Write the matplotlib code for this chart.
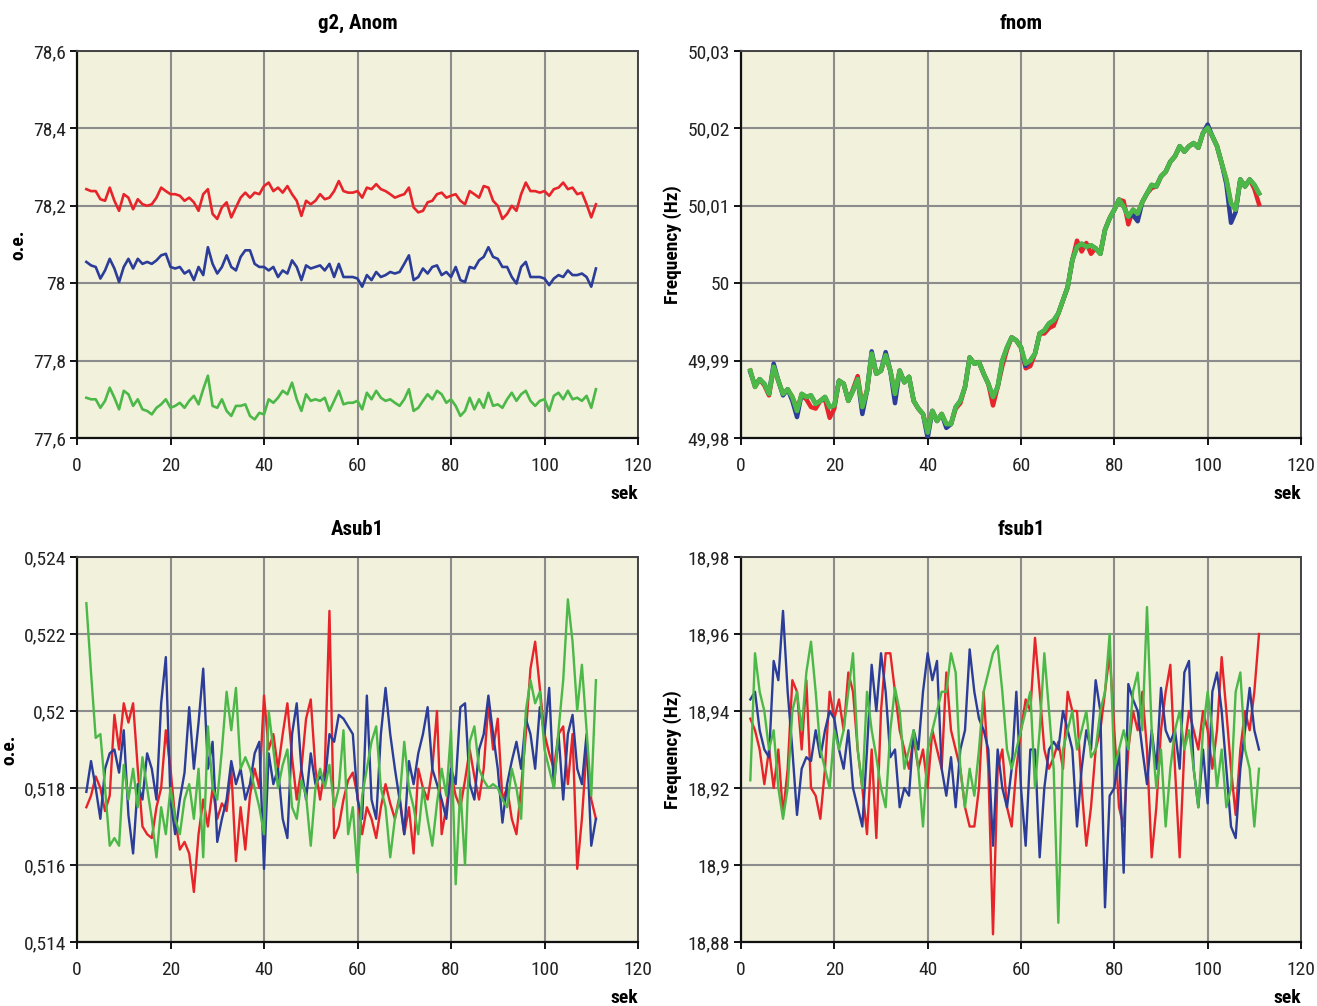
import numpy as np
import matplotlib
matplotlib.use("Agg")
import matplotlib.pyplot as plt
from matplotlib import font_manager
from matplotlib.ticker import FixedLocator, FuncFormatter

# ---------------- data ----------------
t = np.arange(2, 112)  # seconds

g2_red = [78.243, 78.238, 78.238, 78.217, 78.213, 78.247, 78.213, 78.187, 78.230, 78.221,
          78.191, 78.217, 78.204, 78.200, 78.204, 78.221, 78.247, 78.238, 78.230, 78.230,
          78.226, 78.213, 78.221, 78.209, 78.187, 78.230, 78.243, 78.179, 78.166, 78.196,
          78.209, 78.170, 78.196, 78.221, 78.234, 78.221, 78.234, 78.230, 78.251, 78.260,
          78.238, 78.247, 78.234, 78.251, 78.230, 78.213, 78.174, 78.213, 78.204, 78.213,
          78.230, 78.217, 78.221, 78.238, 78.264, 78.238, 78.234, 78.234, 78.238, 78.221,
          78.247, 78.243, 78.256, 78.243, 78.238, 78.230, 78.221, 78.226, 78.230, 78.247,
          78.196, 78.183, 78.187, 78.209, 78.213, 78.230, 78.234, 78.221, 78.226, 78.230,
          78.213, 78.204, 78.238, 78.230, 78.221, 78.251, 78.247, 78.213, 78.200, 78.166,
          78.179, 78.200, 78.187, 78.230, 78.260, 78.238, 78.238, 78.234, 78.238, 78.226,
          78.243, 78.247, 78.260, 78.243, 78.247, 78.230, 78.234, 78.204, 78.170, 78.204]
g2_blue = [78.055, 78.046, 78.042, 78.012, 78.033, 78.063, 78.038, 78.003, 78.042, 78.063,
           78.038, 78.063, 78.050, 78.055, 78.050, 78.059, 78.072, 78.076, 78.042, 78.038,
           78.042, 78.025, 78.033, 78.008, 78.042, 78.021, 78.093, 78.050, 78.025, 78.042,
           78.072, 78.042, 78.033, 78.068, 78.085, 78.085, 78.050, 78.042, 78.042, 78.033,
           78.042, 78.016, 78.033, 78.025, 78.059, 78.042, 78.008, 78.046, 78.038, 78.042,
           78.046, 78.033, 78.050, 78.016, 78.050, 78.016, 78.016, 78.016, 78.012, 77.991,
           78.021, 78.008, 78.029, 78.016, 78.021, 78.029, 78.025, 78.029, 78.050, 78.072,
           78.008, 78.016, 78.038, 78.025, 78.042, 78.046, 78.021, 78.029, 78.016, 78.042,
           78.008, 78.003, 78.042, 78.038, 78.059, 78.068, 78.093, 78.068, 78.063, 78.042,
           78.042, 78.016, 77.999, 78.042, 78.055, 78.016, 78.016, 78.016, 78.012, 77.995,
           78.012, 78.021, 78.016, 78.033, 78.021, 78.021, 78.025, 78.016, 77.991, 78.038]
g2_green = [77.704, 77.700, 77.700, 77.678, 77.696, 77.730, 77.704, 77.674, 77.722, 77.713,
            77.683, 77.700, 77.674, 77.670, 77.661, 77.678, 77.687, 77.700, 77.678, 77.683,
            77.691, 77.678, 77.696, 77.709, 77.687, 77.726, 77.761, 77.683, 77.678, 77.700,
            77.670, 77.657, 77.683, 77.683, 77.687, 77.657, 77.648, 77.665, 77.661, 77.700,
            77.691, 77.704, 77.722, 77.713, 77.743, 77.700, 77.670, 77.713, 77.696, 77.700,
            77.696, 77.704, 77.670, 77.696, 77.722, 77.687, 77.691, 77.691, 77.696, 77.674,
            77.717, 77.700, 77.722, 77.704, 77.696, 77.700, 77.691, 77.683, 77.700, 77.726,
            77.670, 77.678, 77.696, 77.713, 77.700, 77.722, 77.713, 77.691, 77.700, 77.683,
            77.657, 77.670, 77.704, 77.674, 77.700, 77.678, 77.717, 77.683, 77.687, 77.678,
            77.700, 77.717, 77.696, 77.713, 77.722, 77.696, 77.683, 77.696, 77.700, 77.670,
            77.709, 77.717, 77.700, 77.722, 77.700, 77.704, 77.696, 77.709, 77.678, 77.726]

fnom_red = [49.9887, 49.9866, 49.9876, 49.9868, 49.9855, 49.9890, 49.9874, 49.9857, 49.9863, 49.9853,
            49.9838, 49.9855, 49.9850, 49.9840, 49.9838, 49.9848, 49.9850, 49.9826, 49.9838, 49.9874,
            49.9870, 49.9848, 49.9863, 49.9880, 49.9842, 49.9861, 49.9905, 49.9883, 49.9887, 49.9905,
            49.9887, 49.9857, 49.9887, 49.9872, 49.9879, 49.9848, 49.9838, 49.9831, 49.9810, 49.9835,
            49.9822, 49.9831, 49.9818, 49.9818, 49.9838, 49.9845, 49.9866, 49.9904, 49.9896, 49.9898,
            49.9883, 49.9870, 49.9842, 49.9866, 49.9893, 49.9914, 49.9930, 49.9926, 49.9917, 49.9890,
            49.9893, 49.9909, 49.9935, 49.9935, 49.9942, 49.9945, 49.9961, 49.9978, 49.9995, 50.0030,
            50.0055, 50.0041, 50.0052, 50.0038, 50.0045, 50.0038, 50.0069, 50.0084, 50.0095, 50.0108,
            50.0106, 50.0076, 50.0095, 50.0090, 50.0105, 50.0116, 50.0123, 50.0125, 50.0138, 50.0144,
            50.0157, 50.0164, 50.0177, 50.0170, 50.0177, 50.0181, 50.0175, 50.0194, 50.0201, 50.0190,
            50.0177, 50.0155, 50.0134, 50.0103, 50.0095, 50.0134, 50.0125, 50.0134, 50.0122, 50.0102]
fnom_blue = [49.9885, 49.9868, 49.9876, 49.9870, 49.9857, 49.9896, 49.9874, 49.9855, 49.9863, 49.9848,
             49.9827, 49.9857, 49.9853, 49.9855, 49.9844, 49.9848, 49.9853, 49.9840, 49.9842, 49.9874,
             49.9870, 49.9848, 49.9861, 49.9876, 49.9831, 49.9861, 49.9912, 49.9883, 49.9887, 49.9911,
             49.9887, 49.9845, 49.9887, 49.9872, 49.9879, 49.9848, 49.9838, 49.9831, 49.9800, 49.9835,
             49.9822, 49.9831, 49.9813, 49.9818, 49.9840, 49.9848, 49.9866, 49.9904, 49.9896, 49.9898,
             49.9883, 49.9870, 49.9853, 49.9866, 49.9900, 49.9917, 49.9930, 49.9926, 49.9917, 49.9893,
             49.9900, 49.9909, 49.9935, 49.9939, 49.9948, 49.9952, 49.9961, 49.9978, 49.9995, 50.0030,
             50.0047, 50.0051, 50.0047, 50.0049, 50.0045, 50.0038, 50.0069, 50.0084, 50.0095, 50.0108,
             50.0099, 50.0086, 50.0088, 50.0080, 50.0105, 50.0116, 50.0127, 50.0125, 50.0138, 50.0144,
             50.0157, 50.0164, 50.0177, 50.0170, 50.0177, 50.0181, 50.0175, 50.0194, 50.0205, 50.0190,
             50.0177, 50.0155, 50.0128, 50.0078, 50.0092, 50.0134, 50.0125, 50.0134, 50.0127, 50.0116]
fnom_green = [49.9887, 49.9866, 49.9876, 49.9870, 49.9857, 49.9892, 49.9874, 49.9857, 49.9863, 49.9853,
              49.9835, 49.9857, 49.9853, 49.9855, 49.9844, 49.9848, 49.9853, 49.9840, 49.9842, 49.9874,
              49.9870, 49.9848, 49.9861, 49.9876, 49.9840, 49.9861, 49.9909, 49.9883, 49.9887, 49.9907,
              49.9887, 49.9857, 49.9887, 49.9872, 49.9879, 49.9848, 49.9838, 49.9831, 49.9807, 49.9835,
              49.9822, 49.9831, 49.9818, 49.9818, 49.9840, 49.9848, 49.9866, 49.9904, 49.9896, 49.9898,
              49.9883, 49.9870, 49.9853, 49.9866, 49.9900, 49.9917, 49.9930, 49.9926, 49.9917, 49.9896,
              49.9900, 49.9909, 49.9935, 49.9939, 49.9948, 49.9952, 49.9961, 49.9978, 49.9995, 50.0030,
              50.0047, 50.0051, 50.0047, 50.0049, 50.0045, 50.0038, 50.0069, 50.0084, 50.0095, 50.0108,
              50.0099, 50.0086, 50.0095, 50.0090, 50.0105, 50.0116, 50.0127, 50.0125, 50.0138, 50.0144,
              50.0157, 50.0164, 50.0177, 50.0170, 50.0177, 50.0181, 50.0175, 50.0194, 50.0201, 50.0190,
              50.0177, 50.0155, 50.0134, 50.0103, 50.0095, 50.0134, 50.0125, 50.0134, 50.0127, 50.0116]

asub_red = [0.5175, 0.5178, 0.5183, 0.5180, 0.5174, 0.5178, 0.5199, 0.5190, 0.5202, 0.5197,
            0.5202, 0.5185, 0.5170, 0.5168, 0.5167, 0.5175, 0.5180, 0.5195, 0.5185, 0.5172,
            0.5164, 0.5166, 0.5163, 0.5153, 0.5168, 0.5177, 0.5170, 0.5180, 0.5172, 0.5176,
            0.5174, 0.5185, 0.5161, 0.5175, 0.5164, 0.5178, 0.5185, 0.5180, 0.5204, 0.5190,
            0.5194, 0.5185, 0.5194, 0.5202, 0.5188, 0.5177, 0.5185, 0.5198, 0.5203, 0.5185,
            0.5177, 0.5185, 0.5226, 0.5167, 0.5170, 0.5177, 0.5182, 0.5184, 0.5178, 0.5168,
            0.5175, 0.5172, 0.5167, 0.5175, 0.5181, 0.5176, 0.5172, 0.5178, 0.5168, 0.5175,
            0.5163, 0.5185, 0.5180, 0.5177, 0.5185, 0.5200, 0.5168, 0.5175, 0.5184, 0.5178,
            0.5175, 0.5182, 0.5190, 0.5183, 0.5177, 0.5185, 0.5202, 0.5190, 0.5198, 0.5177,
            0.5180, 0.5172, 0.5168, 0.5180, 0.5194, 0.5211, 0.5218, 0.5206, 0.5194, 0.5189,
            0.5185, 0.5194, 0.5196, 0.5181, 0.5194, 0.5159, 0.5172, 0.5190, 0.5177, 0.5172]
asub_blue = [0.5179, 0.5187, 0.5180, 0.5172, 0.5185, 0.5189, 0.5190, 0.5184, 0.5195, 0.5173,
             0.5163, 0.5181, 0.5177, 0.5189, 0.5185, 0.5177, 0.5202, 0.5214, 0.5177, 0.5168,
             0.5177, 0.5184, 0.5201, 0.5185, 0.5197, 0.5211, 0.5185, 0.5192, 0.5166, 0.5172,
             0.5177, 0.5187, 0.5181, 0.5185, 0.5177, 0.5181, 0.5189, 0.5192, 0.5159, 0.5189,
             0.5181, 0.5185, 0.5172, 0.5167, 0.5194, 0.5202, 0.5185, 0.5177, 0.5189, 0.5181,
             0.5183, 0.5181, 0.5194, 0.5192, 0.5199, 0.5198, 0.5196, 0.5194, 0.5177, 0.5172,
             0.5204, 0.5177, 0.5172, 0.5194, 0.5206, 0.5194, 0.5185, 0.5177, 0.5168, 0.5187,
             0.5181, 0.5189, 0.5194, 0.5201, 0.5185, 0.5181, 0.5177, 0.5172, 0.5185, 0.5181,
             0.5201, 0.5202, 0.5181, 0.5177, 0.5190, 0.5194, 0.5204, 0.5194, 0.5185, 0.5171,
             0.5181, 0.5187, 0.5192, 0.5185, 0.5198, 0.5194, 0.5185, 0.5201, 0.5194, 0.5206,
             0.5180, 0.5194, 0.5177, 0.5194, 0.5199, 0.5185, 0.5181, 0.5194, 0.5165, 0.5172]
asub_green = [0.5228, 0.5210, 0.5193, 0.5194, 0.5180, 0.5165, 0.5167, 0.5165, 0.5186, 0.5177,
              0.5185, 0.5175, 0.5188, 0.5180, 0.5172, 0.5162, 0.5175, 0.5168, 0.5180, 0.5172,
              0.5168, 0.5177, 0.5181, 0.5172, 0.5185, 0.5162, 0.5196, 0.5180, 0.5177, 0.5190,
              0.5205, 0.5195, 0.5206, 0.5185, 0.5188, 0.5185, 0.5180, 0.5175, 0.5168, 0.5200,
              0.5190, 0.5180, 0.5186, 0.5190, 0.5175, 0.5172, 0.5182, 0.5178, 0.5165, 0.5180,
              0.5185, 0.5180, 0.5186, 0.5175, 0.5180, 0.5195, 0.5168, 0.5175, 0.5158, 0.5178,
              0.5185, 0.5192, 0.5196, 0.5180, 0.5175, 0.5162, 0.5172, 0.5177, 0.5192, 0.5180,
              0.5175, 0.5168, 0.5180, 0.5172, 0.5165, 0.5176, 0.5185, 0.5178, 0.5195, 0.5155,
              0.5180, 0.5160, 0.5192, 0.5196, 0.5185, 0.5182, 0.5180, 0.5181, 0.5180, 0.5177,
              0.5175, 0.5185, 0.5180, 0.5172, 0.5200, 0.5208, 0.5202, 0.5205, 0.5190, 0.5185,
              0.5180, 0.5195, 0.5208, 0.5229, 0.5218, 0.5200, 0.5212, 0.5195, 0.5178, 0.5208]

fsub_red = [18.938, 18.935, 18.930, 18.921, 18.930, 18.920, 18.930, 18.913, 18.925, 18.948,
            18.945, 18.930, 18.948, 18.920, 18.918, 18.912, 18.925, 18.945, 18.938, 18.943,
            18.935, 18.950, 18.945, 18.930, 18.920, 18.908, 18.930, 18.907, 18.940, 18.955,
            18.955, 18.945, 18.935, 18.930, 18.925, 18.933, 18.925, 18.930, 18.920, 18.935,
            18.930, 18.925, 18.950, 18.935, 18.930, 18.925, 18.915, 18.910, 18.910, 18.920,
            18.945, 18.925, 18.882, 18.925, 18.930, 18.915, 18.910, 18.925, 18.935, 18.943,
            18.940, 18.959, 18.945, 18.930, 18.925, 18.928, 18.932, 18.925, 18.945, 18.940,
            18.940, 18.920, 18.905, 18.915, 18.930, 18.935, 18.945, 18.955, 18.935, 18.915,
            18.910, 18.930, 18.940, 18.935, 18.945, 18.930, 18.902, 18.915, 18.935, 18.945,
            18.952, 18.925, 18.902, 18.930, 18.940, 18.935, 18.930, 18.940, 18.935, 18.925,
            18.935, 18.954, 18.940, 18.925, 18.913, 18.930, 18.940, 18.935, 18.945, 18.960]
fsub_blue = [18.943, 18.945, 18.935, 18.930, 18.928, 18.953, 18.948, 18.966, 18.945, 18.930,
             18.913, 18.925, 18.928, 18.927, 18.935, 18.928, 18.935, 18.940, 18.938, 18.930,
             18.925, 18.935, 18.920, 18.915, 18.910, 18.930, 18.952, 18.940, 18.955, 18.945,
             18.928, 18.930, 18.915, 18.920, 18.918, 18.935, 18.930, 18.945, 18.955, 18.948,
             18.953, 18.925, 18.918, 18.928, 18.915, 18.930, 18.935, 18.956, 18.945, 18.938,
             18.935, 18.930, 18.905, 18.930, 18.920, 18.915, 18.925, 18.945, 18.920, 18.905,
             18.930, 18.930, 18.902, 18.920, 18.930, 18.932, 18.930, 18.940, 18.935, 18.930,
             18.910, 18.925, 18.935, 18.930, 18.948, 18.940, 18.889, 18.918, 18.920, 18.930,
             18.898, 18.947, 18.943, 18.940, 18.930, 18.921, 18.935, 18.925, 18.946, 18.935,
             18.932, 18.935, 18.925, 18.950, 18.953, 18.925, 18.915, 18.930, 18.916, 18.945,
             18.950, 18.940, 18.925, 18.910, 18.907, 18.925, 18.935, 18.946, 18.935, 18.930]
fsub_green = [18.922, 18.955, 18.945, 18.940, 18.930, 18.935, 18.920, 18.912, 18.920, 18.940,
              18.945, 18.935, 18.950, 18.958, 18.945, 18.930, 18.925, 18.920, 18.935, 18.930,
              18.935, 18.945, 18.955, 18.930, 18.920, 18.945, 18.935, 18.928, 18.920, 18.915,
              18.935, 18.946, 18.940, 18.925, 18.930, 18.935, 18.925, 18.910, 18.930, 18.935,
              18.940, 18.945, 18.945, 18.955, 18.950, 18.925, 18.915, 18.925, 18.918, 18.930,
              18.945, 18.950, 18.955, 18.957, 18.945, 18.930, 18.925, 18.930, 18.935, 18.940,
              18.945, 18.920, 18.935, 18.955, 18.940, 18.925, 18.885, 18.930, 18.935, 18.940,
              18.930, 18.935, 18.940, 18.928, 18.930, 18.940, 18.945, 18.960, 18.925, 18.930,
              18.935, 18.930, 18.945, 18.950, 18.935, 18.967, 18.935, 18.920, 18.930, 18.910,
              18.925, 18.935, 18.940, 18.930, 18.935, 18.925, 18.915, 18.935, 18.945, 18.935,
              18.920, 18.930, 18.915, 18.920, 18.945, 18.950, 18.930, 18.925, 18.910, 18.925]

x_ticks = [0, 20, 40, 60, 80, 100, 120]
g2_ticks = [77.6, 77.8, 78.0, 78.2, 78.4, 78.6]
fnom_ticks = [49.98, 49.99, 50.0, 50.01, 50.02, 50.03]
asub_ticks = [0.514, 0.516, 0.518, 0.520, 0.522, 0.524]
fsub_ticks = [18.88, 18.90, 18.92, 18.94, 18.96, 18.98]

# ---------------- style ----------------
names = {f.name for f in font_manager.fontManager.ttflist}
family = 'DejaVu Sans'
for cand in ['Liberation Sans Narrow', 'Roboto Condensed', 'Open Sans Condensed',
             'Noto Sans Condensed', 'DejaVu Sans Condensed', 'Liberation Sans']:
    if cand in names:
        family = cand
        break
plt.rcParams['font.family'] = [family, 'DejaVu Sans']

RED = '#E8242B'
BLUE = '#2B3D99'
GREEN = '#4CB848'
FACE = '#F1F1DC'
GRID = '#8C8C8C'


def comma(v, pos):
    s = f'{v:.4f}'.rstrip('0').rstrip('.')
    return s.replace('.', ',')


fig = plt.figure(figsize=(13.17, 10.06), dpi=100)
fig.patch.set_facecolor('white')

W = 1317.0
H = 1006.0
# (left, top, right, bottom) in pixels, title, ylabel, ticks, series, line widths (r, b, g)
panels = [
    (77, 51, 638, 438, 'g2, Anom', 'o.e.', g2_ticks, (g2_red, g2_blue, g2_green), (1.9, 1.9, 1.9)),
    (741, 51, 1301, 438, 'fnom', 'Frequency (Hz)', fnom_ticks, (fnom_red, fnom_blue, fnom_green), (3.2, 3.2, 3.4)),
    (77, 557, 638, 942, 'Asub1', 'o.e.', asub_ticks, (asub_red, asub_blue, asub_green), (1.7, 1.7, 1.7)),
    (741, 557, 1301, 942, 'fsub1', 'Frequency (Hz)', fsub_ticks, (fsub_red, fsub_blue, fsub_green), (1.7, 1.7, 1.7)),
]

for (x0, y0, x1, y1, title, ylab, yt, series, lws) in panels:
    ax = fig.add_axes([x0 / W, 1 - y1 / H, (x1 - x0) / W, (y1 - y0) / H])
    ax.set_facecolor(FACE)
    for data, col, lw in zip(series, (RED, BLUE, GREEN), lws):
        ax.plot(t, data, color=col, lw=lw, solid_joinstyle='round', zorder=3)
    ax.set_xlim(x_ticks[0], x_ticks[-1])
    ax.set_ylim(yt[0], yt[-1])
    ax.xaxis.set_major_locator(FixedLocator(x_ticks))
    ax.yaxis.set_major_locator(FixedLocator(yt))
    ax.yaxis.set_major_formatter(FuncFormatter(comma))
    ax.grid(True, color=GRID, lw=1.5, zorder=1)
    ax.set_axisbelow(True)
    for side in ('left', 'bottom'):
        ax.spines[side].set_color('#111111')
        ax.spines[side].set_linewidth(1.6)
    for side in ('top', 'right'):
        ax.spines[side].set_color('#444444')
        ax.spines[side].set_linewidth(1.4)
    ax.tick_params(axis='both', direction='out', length=5, width=1.4, color='#111111',
                   labelsize=14, labelcolor='#222222')
    ax.tick_params(axis='x', pad=9)
    ax.tick_params(axis='y', pad=3)
    ax.set_title(title, fontsize=15, fontweight='bold', pad=16)
    ax.set_ylabel(ylab, fontsize=14, fontweight='bold', labelpad=4)
    ax.set_xlabel('sek', fontsize=14, fontweight='bold', loc='right', labelpad=7)

fig.savefig('out.png', dpi=100, facecolor='white')
